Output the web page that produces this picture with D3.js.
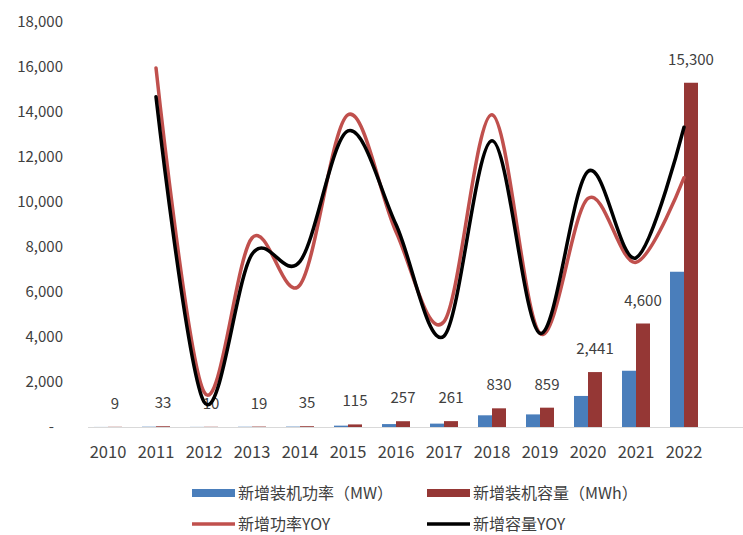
<!DOCTYPE html>
<html>
<head>
<meta charset="utf-8">
<script src="https://cdn.jsdelivr.net/npm/d3@7"></script>
<style>
  body { margin: 0; background: #ffffff; }
  text { font-family: "Noto Sans CJK SC", "Noto Sans", sans-serif; fill: #404040; }
</style>
</head>
<body>
<div id="chart"></div>
<script>
// Data
var years = ['2010', '2011', '2012', '2013', '2014', '2015', '2016', '2017', '2018', '2019', '2020', '2021', '2022'];
var power = [3, 13, 5, 11, 17, 60, 130, 150, 520, 560, 1380, 2500, 6900];        // 新增装机功率 (MW)
var energy = [9, 33, 10, 19, 35, 115, 257, 261, 830, 859, 2441, 4600, 15300];   // 新增装机容量 (MWh)
var powerYoy = [null, 299, -61, 110, 58, 247, 117, 17, 247, 4, 154, 83, 177];   // 新增功率YOY (%)
var energyYoy = [null, 267, -72, 92, 84, 229, 125, 1, 218, 4, 184, 88, 233];    // 新增容量YOY (%)
var yTicks = [0, 2000, 4000, 6000, 8000, 10000, 12000, 14000, 16000, 18000];

var chart_width = 743;
var chart_height = 535;

var svg = d3.select('#chart')
    .append('svg')
    .attr('width', chart_width)
    .attr('height', chart_height);

// Scales
var x_scale = d3.scaleBand()
    .domain(years)
    .range([84, 708]);

var bar_w = 14;
var x_inner = d3.scaleBand()
    .domain(['power', 'energy'])
    .range([x_scale.bandwidth() / 2 - bar_w, x_scale.bandwidth() / 2 + bar_w]);

var y_scale = d3.scaleLinear()
    .domain([0, 18000])
    .range([427, 22]);

// hidden secondary axis for YOY
var y2_scale = d3.scaleLinear()
    .domain([-100, 350])
    .range([427, 22]);

// Y axis (labels only)
var y_axis = d3.axisLeft(y_scale)
    .tickValues(yTicks)
    .tickSize(0)
    .tickPadding(0)
    .tickFormat(function(d) { return d === 0 ? '-' : d3.format(',')(d); });

var gy = svg.append('g')
    .attr('transform', 'translate(63,0)')
    .call(y_axis);
gy.select('.domain').remove();
gy.selectAll('text')
    .attr('font-size', 15)
    .attr('fill', '#404040')
    .attr('font-family', '"Noto Sans CJK SC", sans-serif')
    .attr('dx', function(d) { return d === 0 ? -9 : 0; });

// Bars
var colors = { power: '#4a7ebb', energy: '#953735' };
var groups = svg.selectAll('.year')
    .data(years)
    .enter()
    .append('g')
    .attr('transform', function(d) { return 'translate(' + x_scale(d) + ',0)'; });

groups.append('rect')
    .attr('x', x_inner('power'))
    .attr('width', x_inner.bandwidth())
    .attr('y', function(d, i) { return y_scale(power[i]); })
    .attr('height', function(d, i) { return y_scale(0) - y_scale(power[i]); })
    .attr('fill', colors.power);

groups.append('rect')
    .attr('x', x_inner('energy'))
    .attr('width', x_inner.bandwidth())
    .attr('y', function(d, i) { return y_scale(energy[i]); })
    .attr('height', function(d, i) { return y_scale(0) - y_scale(energy[i]); })
    .attr('fill', colors.energy);

// X axis line
svg.append('line')
    .attr('x1', 88)
    .attr('x2', 743)
    .attr('y1', y_scale(0) + 0.5)
    .attr('y2', y_scale(0) + 0.5)
    .attr('stroke', '#d9d9d9')
    .attr('stroke-width', 1);

// X labels
svg.selectAll('.xlab')
    .data(years)
    .enter()
    .append('text')
    .attr('class', 'xlab')
    .text(function(d) { return d; })
    .attr('x', function(d) { return x_scale(d) + x_scale.bandwidth() / 2; })
    .attr('y', 458)
    .attr('font-size', 16.5)
    .attr('text-anchor', 'middle');

// Lines
var line = function(vals) {
    return d3.line()
        .defined(function(d) { return d != null; })
        .x(function(d, i) { return x_scale(years[i]) + x_scale.bandwidth() / 2; })
        .y(function(d) { return y2_scale(d); })
        .curve(d3.curveCatmullRom.alpha(0))(vals);
};

svg.append('path')
    .attr('d', line(powerYoy))
    .attr('fill', 'none')
    .attr('stroke', '#c0504d')
    .attr('stroke-width', 3.5)
    .attr('stroke-linecap', 'round');

svg.append('path')
    .attr('d', line(energyYoy))
    .attr('fill', 'none')
    .attr('stroke', '#000000')
    .attr('stroke-width', 3.5)
    .attr('stroke-linecap', 'round');

// Data labels on capacity bars
groups.append('text')
    .text(function(d, i) { return d3.format(',')(energy[i]); })
    .attr('x', x_inner('energy') + x_inner.bandwidth() / 2)
    .attr('y', function(d, i) { return y_scale(energy[i]) - 18; })
    .attr('font-size', 15)
    .attr('text-anchor', 'middle');

// Legend
var legend = [
    { label: '新增装机功率（MW）', color: colors.power, type: 'rect', x: 192, y: 493 },
    { label: '新增装机容量（MWh）', color: colors.energy, type: 'rect', x: 427, y: 493 },
    { label: '新增功率YOY', color: '#c0504d', type: 'line', x: 192, y: 524 },
    { label: '新增容量YOY', color: '#000000', type: 'line', x: 427, y: 524 }
];

var lg = svg.selectAll('.legend')
    .data(legend)
    .enter()
    .append('g')
    .attr('transform', function(d) { return 'translate(' + d.x + ',' + d.y + ')'; });

lg.filter(function(d) { return d.type === 'rect'; })
    .append('rect')
    .attr('x', 0)
    .attr('y', -4)
    .attr('width', 43)
    .attr('height', 8)
    .attr('fill', function(d) { return d.color; });

lg.filter(function(d) { return d.type === 'line'; })
    .append('line')
    .attr('x1', 0)
    .attr('x2', 43)
    .attr('stroke', function(d) { return d.color; })
    .attr('stroke-width', 3.5);

lg.append('text')
    .text(function(d) { return d.label; })
    .attr('x', 46)
    .attr('y', 0)
    .attr('dy', '0.36em')
    .attr('font-size', 16);
</script>
</body>
</html>
